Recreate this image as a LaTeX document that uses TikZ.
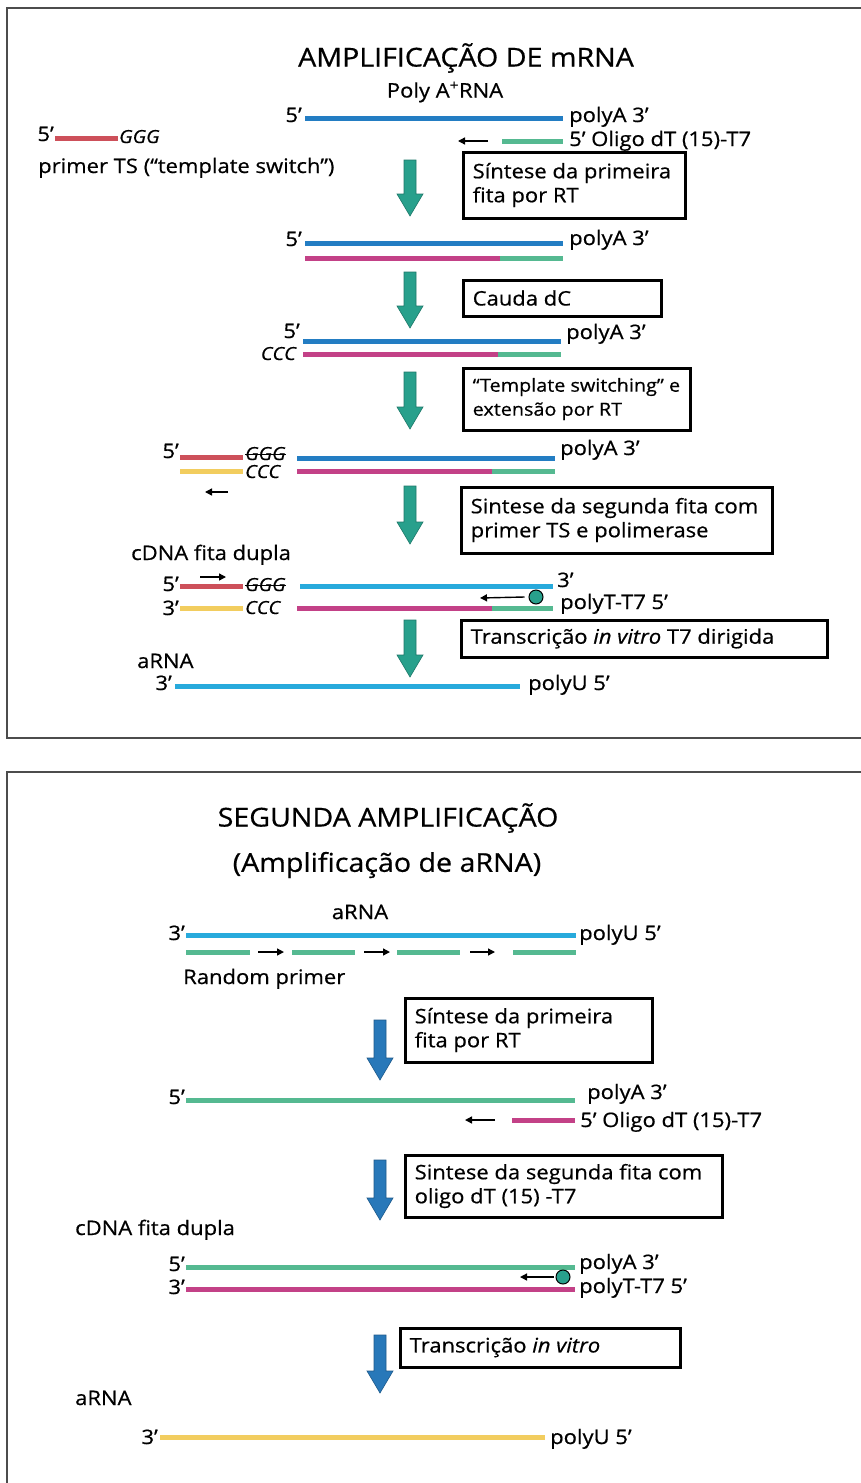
\documentclass[tikz,border=0pt]{standalone}
\usepackage{fontspec}
\setmainfont{Open Sans}[FakeStretch=1.1, FakeBold=0.6]
\usetikzlibrary{arrows.meta}
\definecolor{rblue}{RGB}{35,125,195}
\definecolor{cblue}{RGB}{40,170,220}
\definecolor{mag}{RGB}{195,65,135}
\definecolor{grn}{RGB}{85,185,145}
\definecolor{redS}{RGB}{205,80,90}
\definecolor{yel}{RGB}{242,205,95}
\definecolor{tealA}{RGB}{40,160,140}
\definecolor{blueA}{RGB}{40,120,185}
\newcommand\procarrow[4]{%
  \fill[#1, draw=#1!75!black, line width=0.6pt] (#2-6,#3) -- (#2+6,#3) -- (#2+6,#4-22) -- (#2+13,#4-22) -- (#2,#4) -- (#2-13,#4-22) -- (#2-6,#4-22) -- cycle;}
\begin{document}
\begin{tikzpicture}[x=1pt,y=-1pt,
  lab/.style={font=\fontsize{20}{24}\selectfont, inner sep=0pt},
  itlab/.style={font=\fontsize{18}{22}\selectfont\itshape, inner sep=0pt},
  ttl/.style={font=\fontsize{26}{30}\selectfont, inner sep=0pt},
  strand/.style={line width=5pt},
  sarrow/.style={line width=1.4pt, -{Triangle[length=7pt,width=7pt]}},
  stepbox/.style={draw, line width=3pt, inner sep=0pt},
  boxtext/.style={anchor=west, align=left, inner sep=0pt, xshift=11pt, font=\fontsize{20}{24}\selectfont},
  dot/.style={circle, draw=black, line width=1pt, fill=tealA, minimum size=14pt, inner sep=0pt}]
\useasboundingbox (0,0) rectangle (860,1483);
\fill[white] (0,0) rectangle (860,1483);
% panels
\draw[line width=1.8pt, black!70] (7,8) rectangle (880,738);
\draw[line width=1.8pt, black!70] (7,772) rectangle (880,1500);

%================ panel 1
\node[ttl] (t1) at (466,58) {AMPLIFICAÇÃO DE mRNA};
\node[lab] (polyArna) at (445,92) {Poly A\textsuperscript{+}RNA};
% row 1
\node[lab, anchor=base east] (r1a) at (302,122) {5'};
\draw[strand, rblue] (305,118) -- (563,118);
\node[lab, anchor=base west] (r1b) at (569,122) {polyA 3'};
\draw[sarrow] (488,141) -- (458,141);
\draw[strand, grn] (502,141) -- (563,141);
\node[lab, anchor=base west] (olig1) at (569,146) {5' Oligo dT (15)-T7};
\node[lab, anchor=base east] (ts5) at (54,141) {5'};
\draw[strand, redS] (55,138) -- (118,138);
\node[itlab, anchor=base west] (tsg) at (119,143) {GGG};
\node[lab, anchor=base west] (tslab) at (38,173) {primer TS (``template switch'')};
% arrow 1 + box 1
\procarrow{tealA}{410}{160}{216}
\node[stepbox, minimum width=222pt, minimum height=66pt] (b1) at (574,185) {};
\node[boxtext] (b1t) at (b1.west) {Síntese da primeira\\fita por RT};
% row 2
\node[lab, anchor=base east] (r2a) at (302,246) {5'};
\draw[strand, rblue] (305,243) -- (563,243);
\node[lab, anchor=base west] (r2b) at (569,245) {polyA 3'};
\draw[strand, mag] (305,258) -- (500,258);
\draw[strand, grn] (500,258) -- (563,258);
% arrow 2 + box 2
\procarrow{tealA}{410}{272}{328}
\node[stepbox, minimum width=198pt, minimum height=36pt] (b2) at (562,298) {};
\node[boxtext] (b2t) at (b2.west) {Cauda dC};
% row 3
\node[lab, anchor=base east] (r3a) at (300,338) {5'};
\node[itlab, anchor=base east] (r3c) at (296,360) {CCC};
\draw[strand, rblue] (303,341) -- (561,341);
\node[lab, anchor=base west] (r3b) at (566,339) {polyA 3'};
\draw[strand, mag] (303,354) -- (498,354);
\draw[strand, grn] (498,354) -- (561,354);
% arrow 3 + box 3
\procarrow{tealA}{410}{372}{429}
\node[stepbox, minimum width=227pt, minimum height=62pt] (b3) at (576.5,399) {};
\node[boxtext, font=\fontsize{18}{24}\selectfont] (b3t) at (b3.west) {``Template switching'' e\\extensão por RT};
% row 4
\node[lab, anchor=base east] (r4a) at (179,458) {5'};
\draw[strand, redS] (180,457) -- (243,457);
\node[itlab, anchor=base west] (r4g) at (245,460) {GGG};
\draw[line width=0.9pt] ([yshift=-1pt]r4g.west) -- ([yshift=-1pt]r4g.east);
\draw[strand, yel] (180,471) -- (243,471);
\node[itlab, anchor=base west] (r4c) at (245,478) {CCC};
\draw[strand, rblue] (297,458) -- (555,458);
\draw[strand, mag] (297,471) -- (492,471);
\draw[strand, grn] (492,471) -- (555,471);
\node[lab, anchor=base west] (r4b) at (560,455) {polyA 3'};
\draw[sarrow] (228,492) -- (205,492);
% arrow 4 + box 4
\procarrow{tealA}{410}{486}{544}
\node[stepbox, minimum width=311pt, minimum height=66pt] (b4) at (616.5,520) {};
\node[boxtext] (b4t) at (b4.west) {Sintese da segunda fita com\\primer TS e polimerase};
\node[lab, anchor=base west] (cd1) at (131,560) {cDNA fita dupla};
% row 5
\node[lab, anchor=base east] (r5a) at (179,591) {5'};
\draw[strand, redS] (180,586) -- (243,586);
\draw[sarrow] (200,577) -- (226,577);
\node[itlab, anchor=base west] (r5g) at (245,591) {GGG};
\draw[line width=0.9pt] ([yshift=-1pt]r5g.west) -- ([yshift=-1pt]r5g.east);
\draw[strand, cblue] (300,586) -- (553,586);
\node[lab, anchor=base west] (r5b) at (557,587) {3'};
\node[dot] (c1) at (536,597) {};
\draw[sarrow] ([xshift=-4pt]c1.west) -- (480,598);
\node[lab, anchor=base west] (r5t) at (560,609) {polyT-T7 5'};
\node[lab, anchor=base east] (r5c) at (179,615) {3'};
\draw[strand, yel] (180,608) -- (243,608);
\node[itlab, anchor=base west] (r5cc) at (245,614) {CCC};
\draw[strand, mag] (297,608) -- (492,608);
\draw[strand, grn] (492,608) -- (553,608);
% arrow 5 + box 5
\procarrow{tealA}{410}{620}{677}
\node[stepbox, minimum width=366pt, minimum height=37pt] (b5) at (644,638.5) {};
\node[boxtext] (b5t) at (b5.west) {Transcrição \textit{in vitro} T7 dirigida};
\node[lab, anchor=base west] (arna1) at (137,668) {aRNA};
\node[lab, anchor=base east] (r6a) at (172,690) {3'};
\draw[strand, cblue] (175,686) -- (520,686);
\node[lab, anchor=base west] (r6b) at (528,690) {polyU 5'};

%================ panel 2
\node[ttl] (t2) at (388,818) {SEGUNDA AMPLIFICAÇÃO};
\node[ttl] (t3) at (387,865) {(Amplificação de aRNA)};
\node[lab] (arna2) at (360,912) {aRNA};
\node[lab, anchor=base east] (s1a) at (185,940) {3'};
\draw[strand, cblue] (186,935) -- (576,935);
\node[lab, anchor=base west] (s1b) at (579,940) {polyU 5'};
\draw[strand, grn] (186,952) -- (250,952);
\draw[strand, grn] (292,952) -- (355,952);
\draw[strand, grn] (397,952) -- (460,952);
\draw[strand, grn] (513,952) -- (576,952);
\draw[sarrow] (258,952) -- (284,952);
\draw[sarrow] (364,952) -- (390,952);
\draw[sarrow] (470,952) -- (495,952);
\node[lab, anchor=base west] (rp) at (183,984) {Random primer};
\procarrow{blueA}{380}{1020}{1080}
\node[stepbox, minimum width=247pt, minimum height=64pt] (b6) at (528.5,1030) {};
\node[boxtext] (b6t) at (b6.west) {Síntese da primeira\\fita por RT};
\node[lab, anchor=base east] (s2a) at (185,1104) {5'};
\draw[strand, grn] (186,1100) -- (575,1100);
\node[lab, anchor=base west] (s2b) at (587,1099) {polyA 3'};
\draw[sarrow] (495,1120) -- (465,1120);
\draw[strand, mag] (512,1120) -- (575,1120);
\node[lab, anchor=base west] (olig2) at (580,1127) {5' Oligo dT (15)-T7};
\procarrow{blueA}{380}{1160}{1220}
\node[stepbox, minimum width=317pt, minimum height=62pt] (b7) at (563.5,1186) {};
\node[boxtext] (b7t) at (b7.west) {Sintese da segunda fita com\\oligo dT (15) -T7};
\node[lab, anchor=base west] (cd2) at (75,1235) {cDNA fita dupla};
\node[lab, anchor=base east] (s3a) at (185,1271) {5'};
\draw[strand, grn] (186,1267) -- (575,1267);
\node[lab, anchor=base west] (s3b) at (579,1269) {polyA 3'};
\node[dot] (c2) at (563,1277) {};
\draw[sarrow] ([xshift=-2pt]c2.west) -- (520,1277);
\node[lab, anchor=base west] (s3t) at (579,1293) {polyT-T7 5'};
\node[lab, anchor=base east] (s3c) at (185,1294) {3'};
\draw[strand, mag] (186,1289) -- (575,1289);
\procarrow{blueA}{380}{1335}{1393}
\node[stepbox, minimum width=280pt, minimum height=39pt] (b8) at (540,1347.5) {};
\node[boxtext] (b8t) at (b8.west) {Transcrição \textit{in vitro}};
\node[lab, anchor=base west] (arna3) at (75,1405) {aRNA};
\node[lab, anchor=base east] (s4a) at (158,1444) {3'};
\draw[strand, yel] (160,1437) -- (545,1437);
\node[lab, anchor=base west] (s4b) at (550,1444) {polyU 5'};
\end{tikzpicture}
\end{document}
